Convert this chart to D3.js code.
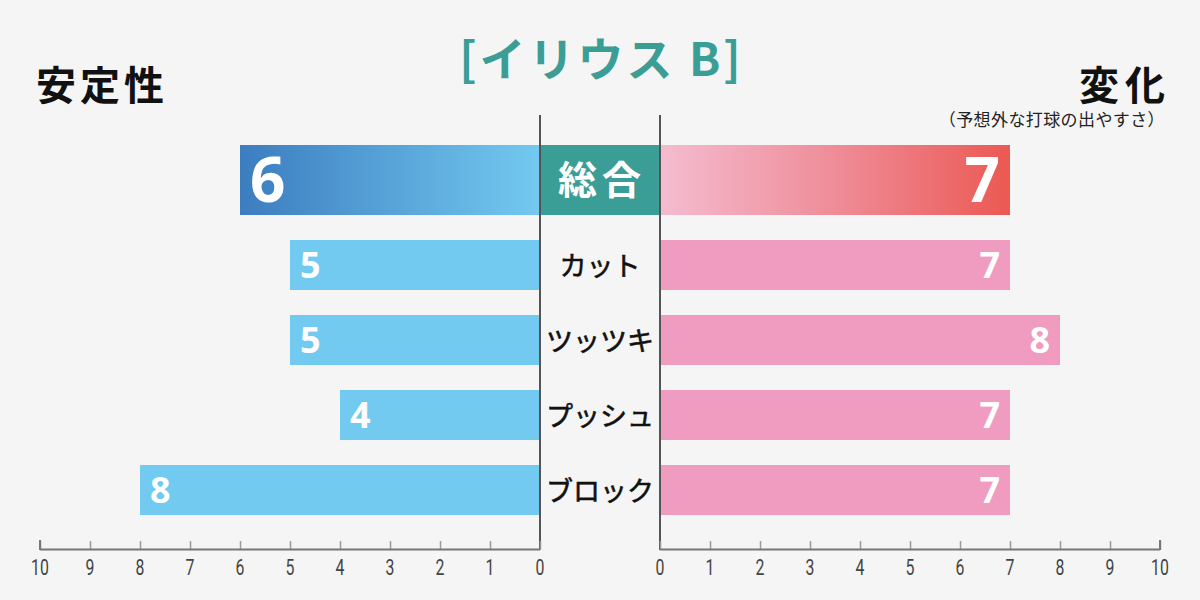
<!DOCTYPE html>
<html><head><meta charset="utf-8">
<script src="https://cdn.jsdelivr.net/npm/d3@7/dist/d3.min.js"></script>
<style>
html,body{margin:0;padding:0;background:#f5f5f5;}
svg{display:block;}
</style></head>
<body>
<svg id="chart" width="1200" height="600"></svg>
<script>
const title = "[イリウス B]";
const leftTitle = "安定性";
const rightTitle = "変化";
const rightSubtitle = "（予想外な打球の出やすさ）";
const totalLabel = "総合";
const totalLeft = 6;
const totalRight = 7;
const categories = ["カット", "ツッツキ", "プッシュ", "ブロック"];
const leftValues = [5, 5, 4, 8];
const rightValues = [7, 8, 7, 7];
const tickValues = [0,1,2,3,4,5,6,7,8,9,10];

const svg = d3.select("#chart");
const jp = "'Noto Sans CJK JP','Noto Sans',sans-serif";
const num = "'Open Sans','Noto Sans',sans-serif";

svg.append("rect").attr("width",1200).attr("height",600).attr("fill","#f5f5f5");

const xL = d3.scaleLinear().domain([0,10]).range([540,40]);
const xR = d3.scaleLinear().domain([0,10]).range([660,1160]);
const y = d3.scaleBand().domain(categories).range([227.5,527.5]).paddingInner(1/3).paddingOuter(1/6);
const totalY = 145, totalH = 70;

const defs = svg.append("defs");
const gL = defs.append("linearGradient").attr("id","gL").attr("x1","0").attr("x2","1").attr("y1","0").attr("y2","0");
gL.append("stop").attr("offset","0").attr("stop-color","#3c7dc0");
gL.append("stop").attr("offset","1").attr("stop-color","#73c9f0");
const gR = defs.append("linearGradient").attr("id","gR").attr("x1","0").attr("x2","1").attr("y1","0").attr("y2","0");
gR.append("stop").attr("offset","0").attr("stop-color","#f4bcd0");
gR.append("stop").attr("offset","0.5").attr("stop-color","#ef8c98");
gR.append("stop").attr("offset","1").attr("stop-color","#eb5953");

// titles
svg.append("text").attr("x",601.5).attr("y",76).attr("text-anchor","middle")
  .attr("font-family",jp).attr("font-weight",700).attr("font-size",46).attr("letter-spacing",3).attr("fill","#3a9e96")
  .text(title);
svg.append("text").attr("x",36).attr("y",100)
  .attr("font-family",jp).attr("font-weight",700).attr("font-size",40).attr("letter-spacing",4).attr("fill","#111")
  .text(leftTitle);
svg.append("text").attr("x",1165+6).attr("y",100).attr("text-anchor","end")
  .attr("font-family",jp).attr("font-weight",700).attr("font-size",40).attr("letter-spacing",6).attr("fill","#111")
  .text(rightTitle);
svg.append("text").attr("x",1165).attr("y",126).attr("text-anchor","end")
  .attr("font-family",jp).attr("font-weight",400).attr("font-size",17).attr("letter-spacing",0.4).attr("fill","#222")
  .text(rightSubtitle);

// total row
svg.append("rect").attr("x",xL(totalLeft)).attr("y",totalY).attr("width",xL(0)-xL(totalLeft)).attr("height",totalH).attr("fill","url(#gL)");
svg.append("rect").attr("x",xR(0)).attr("y",totalY).attr("width",xR(totalRight)-xR(0)).attr("height",totalH).attr("fill","url(#gR)");
svg.append("rect").attr("x",xL(0)).attr("y",totalY).attr("width",xR(0)-xL(0)).attr("height",totalH).attr("fill","#3a9e96");
svg.append("text").attr("x",602).attr("y",totalY+totalH/2+14).attr("text-anchor","middle")
  .attr("font-family",jp).attr("font-weight",700).attr("font-size",39).attr("letter-spacing",5).attr("fill","#fff")
  .text(totalLabel);
svg.append("text").attr("x",xL(totalLeft)+10).attr("y",totalY+totalH/2+22)
  .attr("font-family",num).attr("font-weight",700).attr("font-size",62).attr("fill","#fff").text(totalLeft);
svg.append("text").attr("x",xR(totalRight)-10).attr("y",totalY+totalH/2+22).attr("text-anchor","end")
  .attr("font-family",num).attr("font-weight",700).attr("font-size",62).attr("fill","#fff").text(totalRight);

// category rows
const rows = svg.append("g").selectAll("g").data(categories).join("g");
rows.append("rect").attr("x",(d,i)=>xL(leftValues[i])).attr("y",d=>y(d))
  .attr("width",(d,i)=>xL(0)-xL(leftValues[i])).attr("height",y.bandwidth()).attr("fill","#73caf0");
rows.append("rect").attr("x",xR(0)).attr("y",d=>y(d))
  .attr("width",(d,i)=>xR(rightValues[i])-xR(0)).attr("height",y.bandwidth()).attr("fill","#f09bc0");
rows.append("text").attr("x",(d,i)=>xL(leftValues[i])+10).attr("y",d=>y(d)+y.bandwidth()/2+13)
  .attr("font-family",num).attr("font-weight",700).attr("font-size",36).attr("fill","#fff")
  .text((d,i)=>leftValues[i]);
rows.append("text").attr("x",(d,i)=>xR(rightValues[i])-10).attr("y",d=>y(d)+y.bandwidth()/2+13).attr("text-anchor","end")
  .attr("font-family",num).attr("font-weight",700).attr("font-size",36).attr("fill","#fff")
  .text((d,i)=>rightValues[i]);
rows.append("text").attr("x",600).attr("y",d=>y(d)+y.bandwidth()/2+11).attr("text-anchor","middle")
  .attr("font-family",jp).attr("font-weight",400).attr("font-size",27).attr("fill","#111")
  .attr("stroke","#111").attr("stroke-width",0.6)
  .text(d=>d);

// vertical center lines
[xL(0), xR(0)].forEach(x=>{
  svg.append("line").attr("x1",x).attr("x2",x).attr("y1",115).attr("y2",550)
    .attr("stroke","#555").attr("stroke-width",2);
});

// axes
function drawAxis(scale){
  const g = svg.append("g").attr("transform","translate(0,550)");
  const ax = d3.axisTop(scale).tickValues(tickValues).tickSize(9).tickFormat("");
  g.call(ax);
  g.select(".domain").remove();
  g.selectAll(".tick line").attr("stroke","#9a9a9a").attr("stroke-width",1.5);
  g.append("line").attr("x1",scale.range()[0]).attr("x2",scale.range()[1]).attr("y1",-0.5).attr("y2",-0.5)
    .attr("stroke","#777").attr("stroke-width",2);
  g.append("line").attr("x1",scale(10)).attr("x2",scale(10)).attr("y1",-10).attr("y2",0)
    .attr("stroke","#777").attr("stroke-width",2);
  const lab = svg.append("g").attr("transform","translate(0,575)");
  lab.selectAll("text").data(tickValues).join("text")
    .attr("transform",d=>`translate(${scale(d)},0) scale(0.72,1)`)
    .attr("text-anchor","middle")
    .attr("font-family","'Roboto','Liberation Sans',sans-serif")
    .attr("font-size",22).attr("fill","#444").text(d=>d);
}
drawAxis(xL);
drawAxis(xR);
</script>
</body></html>
